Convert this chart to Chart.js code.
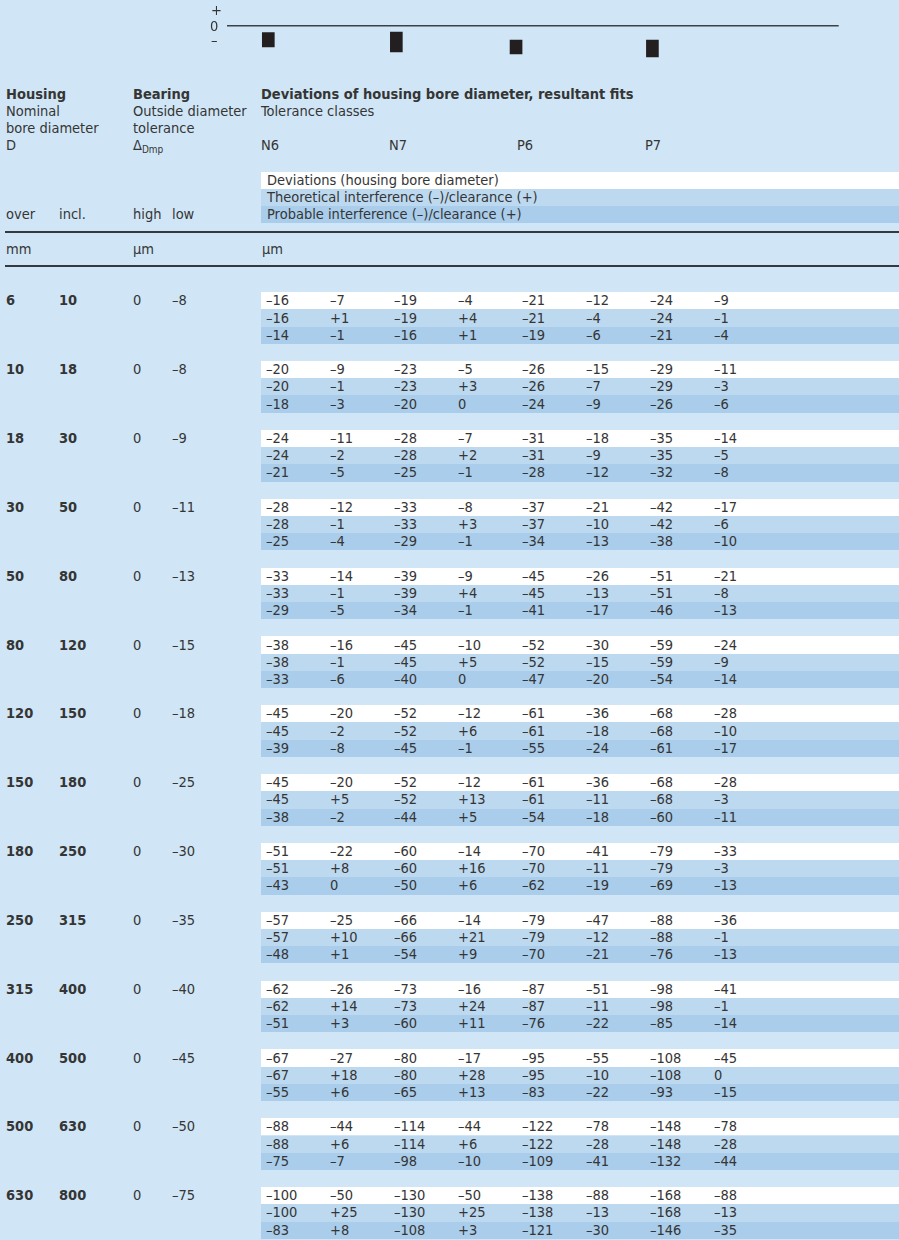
<!DOCTYPE html>
<html>
<head>
<meta charset="utf-8">
<script src="https://cdn.jsdelivr.net/npm/chart.js@4"></script>
<style>
  html, body { margin: 0; padding: 0; }
  body {
    width: 899px; height: 1240px; overflow: hidden; position: relative;
    background: #d0e6f6; color: #353535;
    font-family: 'DejaVu Sans Condensed', 'DejaVu Sans', sans-serif;
    font-stretch: condensed; font-size: 14.5px;
  }
  .t { position: absolute; white-space: nowrap; line-height: 17px; }
  .b { font-weight: bold; }
  .band { position: absolute; left: 261px; width: 638px; }
  .rule { position: absolute; left: 5px; width: 894px; background: #333a40; }
  #zones { position: absolute; left: 0; top: 0; width: 899px; height: 70px; }
  sub { font-size: 10px; vertical-align: -3px; line-height: 0; }
</style>
</head>
<body>
<div id="zones"><canvas id="zoneChart"></canvas></div>
<div id="table"></div>
<script>
// Tolerance classes and schematic tolerance zones (top sketch)
const classes = ['N6', 'N7', 'P6', 'P7'];
const zoneX = [0.05, 2.05, 3.92, 6.05];         // position under the columns
const zoneTop = [-7, -6.3, -14.3, -14.3];
const zoneBottom = [-21.3, -26.3, -28.3, -31.3];

// Housing bore diameter D (mm)
const over = [6, 10, 18, 30, 50, 80, 120, 150, 180, 250, 315, 400, 500, 630];
const incl = [10, 18, 30, 50, 80, 120, 150, 180, 250, 315, 400, 500, 630, 800];

// Bearing outside diameter tolerance (µm)
const tolHigh = [0, 0, 0, 0, 0, 0, 0, 0, 0, 0, 0, 0, 0, 0];
const tolLow = [-8, -8, -9, -11, -13, -15, -18, -25, -30, -35, -40, -45, -50, -75];

// Deviations (housing bore diameter), N6 N7 P6 P7 pairs
const deviations = [
    [-16, -7, -19, -4, -21, -12, -24, -9],
    [-20, -9, -23, -5, -26, -15, -29, -11],
    [-24, -11, -28, -7, -31, -18, -35, -14],
    [-28, -12, -33, -8, -37, -21, -42, -17],
    [-33, -14, -39, -9, -45, -26, -51, -21],
    [-38, -16, -45, -10, -52, -30, -59, -24],
    [-45, -20, -52, -12, -61, -36, -68, -28],
    [-45, -20, -52, -12, -61, -36, -68, -28],
    [-51, -22, -60, -14, -70, -41, -79, -33],
    [-57, -25, -66, -14, -79, -47, -88, -36],
    [-62, -26, -73, -16, -87, -51, -98, -41],
    [-67, -27, -80, -17, -95, -55, -108, -45],
    [-88, -44, -114, -44, -122, -78, -148, -78],
    [-100, -50, -130, -50, -138, -88, -168, -88]
];

// Theoretical interference (-)/clearance (+)
const theoretical = [
    [-16, 1, -19, 4, -21, -4, -24, -1],
    [-20, -1, -23, 3, -26, -7, -29, -3],
    [-24, -2, -28, 2, -31, -9, -35, -5],
    [-28, -1, -33, 3, -37, -10, -42, -6],
    [-33, -1, -39, 4, -45, -13, -51, -8],
    [-38, -1, -45, 5, -52, -15, -59, -9],
    [-45, -2, -52, 6, -61, -18, -68, -10],
    [-45, 5, -52, 13, -61, -11, -68, -3],
    [-51, 8, -60, 16, -70, -11, -79, -3],
    [-57, 10, -66, 21, -79, -12, -88, -1],
    [-62, 14, -73, 24, -87, -11, -98, -1],
    [-67, 18, -80, 28, -95, -10, -108, 0],
    [-88, 6, -114, 6, -122, -28, -148, -28],
    [-100, 25, -130, 25, -138, -13, -168, -13]
];

// Probable interference (-)/clearance (+)
const probable = [
    [-14, -1, -16, 1, -19, -6, -21, -4],
    [-18, -3, -20, 0, -24, -9, -26, -6],
    [-21, -5, -25, -1, -28, -12, -32, -8],
    [-25, -4, -29, -1, -34, -13, -38, -10],
    [-29, -5, -34, -1, -41, -17, -46, -13],
    [-33, -6, -40, 0, -47, -20, -54, -14],
    [-39, -8, -45, -1, -55, -24, -61, -17],
    [-38, -2, -44, 5, -54, -18, -60, -11],
    [-43, 0, -50, 6, -62, -19, -69, -13],
    [-48, 1, -54, 9, -70, -21, -76, -13],
    [-51, 3, -60, 11, -76, -22, -85, -14],
    [-55, 6, -65, 13, -83, -22, -93, -15],
    [-75, -7, -98, -10, -109, -41, -132, -44],
    [-83, 8, -108, 3, -121, -30, -146, -35]
];

const legendRows = [
    'Deviations (housing bore diameter)',
    'Theoretical interference (–)/clearance (+)',
    'Probable interference (–)/clearance (+)'
];
const bandColors = ['#ffffff', '#bdd9f0', '#a9cdea'];

// --- schematic of tolerance zones ---
new Chart(document.getElementById('zoneChart'), {
    type: 'bar',
    data: {
        labels: classes,
        datasets: [{
            data: classes.map((c, i) => ({ x: zoneX[i], y: [zoneTop[i], zoneBottom[i]] })),
            backgroundColor: '#231f20',
            barThickness: 12
        }]
    },
    options: {
        responsive: true,
        maintainAspectRatio: false,
        animation: false,
        layout: { padding: { left: 226.7, right: 60.3, top: 0, bottom: 0 } },
        plugins: { legend: { display: false }, tooltip: { enabled: false } },
        scales: {
            x: { type: 'linear', display: false, min: -0.6, max: 8.96, offset: false },
            y: {
                min: -44.3, max: 25.7,
                ticks: { display: false },
                border: { display: false },
                grid: {
                    drawTicks: false,
                    lineWidth: 1.4,
                    color: c => c.tick && c.tick.value === 0 ? '#3b4148' : 'rgba(0,0,0,0)'
                },
                afterBuildTicks: s => { s.ticks = [{ value: 0 }]; },
                afterFit: s => { s.width = 0; }
            }
        }
    }
});

// --- table text ---
const table = document.getElementById('table');
const R = 17.21;
const y0 = 180.35;
const rowY = r => y0 + R * r;

function fmt(v) {
    if (v > 0) return '+' + v;
    if (v < 0) return '–' + (-v);
    return '0';
}

function put(html, x, yc, cls) {
    const d = document.createElement('div');
    d.className = 't' + (cls ? ' ' + cls : '');
    d.style.left = x + 'px';
    d.style.top = (yc - 8.5) + 'px';
    d.innerHTML = html;
    table.appendChild(d);
}

function band(r, color) {
    const d = document.createElement('div');
    d.className = 'band';
    d.style.top = (rowY(r) - R / 2) + 'px';
    d.style.height = R + 'px';
    d.style.background = color;
    table.appendChild(d);
}

function rule(yc, h) {
    const d = document.createElement('div');
    d.className = 'rule';
    d.style.top = (yc - h / 2) + 'px';
    d.style.height = h + 'px';
    table.appendChild(d);
}

// sign marks of the sketch
put('+', 211, 10);
put('0', 210, 26);
put('–', 211, 40);

// header
put('Housing', 6, rowY(-5), 'b');
put('Bearing', 133, rowY(-5), 'b');
put('Deviations of housing bore diameter, resultant fits', 261, rowY(-5), 'b');
put('Nominal', 6, rowY(-4));
put('Outside diameter', 133, rowY(-4));
put('Tolerance classes', 261, rowY(-4));
put('bore diameter', 6, rowY(-3));
put('tolerance', 133, rowY(-3));
put('D', 6, rowY(-2));
put('Δ<sub>Dmp</sub>', 133, rowY(-2));
const classX = [261, 389, 517, 645];
classes.forEach((c, i) => put(c, classX[i], rowY(-2)));

legendRows.forEach((txt, k) => {
    band(k, bandColors[k]);
    put(txt, 267, rowY(k));
});
put('over', 6, rowY(2));
put('incl.', 59, rowY(2));
put('high', 133, rowY(2));
put('low', 172, rowY(2));
rule(rowY(3), 1.2);
put('mm', 6, rowY(4));
put('µm', 133, rowY(4));
put('µm', 262, rowY(4));
rule(rowY(5) - 0.5, 2.2);

// body rows
const colX = k => 266 + 64 * k;
over.forEach((o, g) => {
    const r = 7 + 4 * g;
    put(String(o), 6, rowY(r), 'b');
    put(String(incl[g]), 59, rowY(r), 'b');
    put(fmt(tolHigh[g]), 133, rowY(r));
    put(fmt(tolLow[g]), 172, rowY(r));
    [deviations, theoretical, probable].forEach((set, k) => {
        band(r + k, bandColors[k]);
        set[g].forEach((v, j) => put(fmt(v), colX(j), rowY(r + k)));
    });
});
</script>
</body>
</html>
